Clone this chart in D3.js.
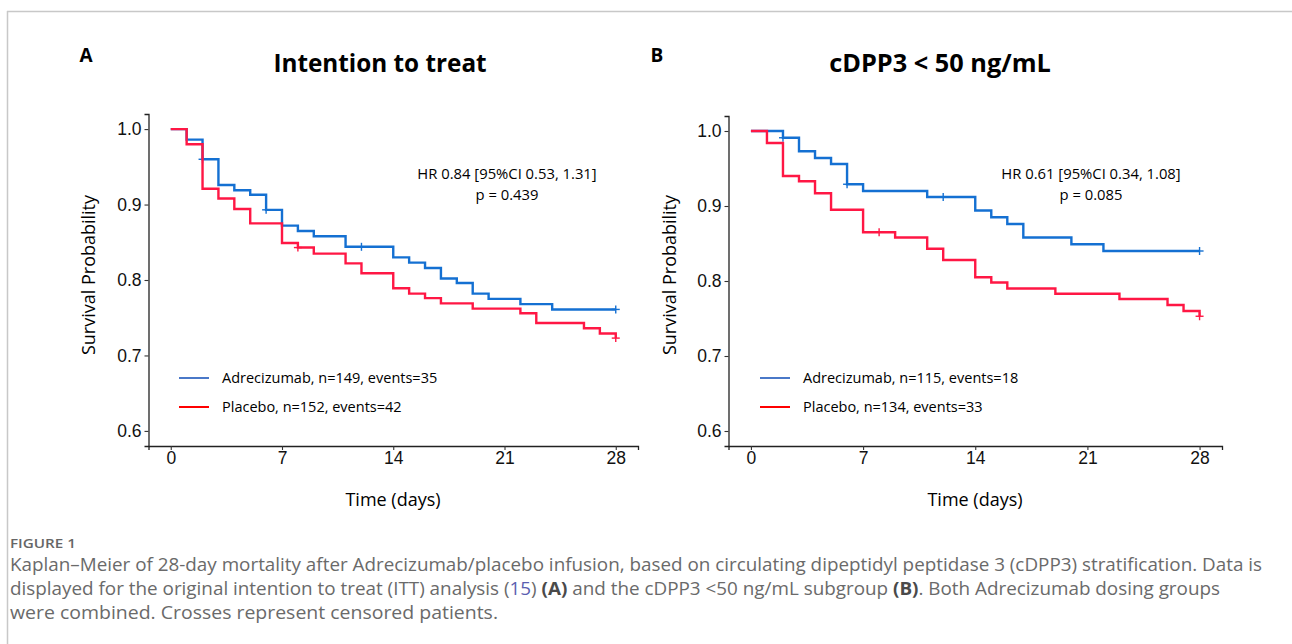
<!DOCTYPE html>
<html>
<head>
<meta charset="utf-8">
<script src="https://cdn.jsdelivr.net/npm/d3@7"></script>
<style>
  html, body { margin: 0; padding: 0; background: #fff; }
  svg { display: block; }
</style>
</head>
<body>
<svg id="chart" width="1292" height="644"></svg>
<script>
// ---------- DATA ----------
const xTicks = [0, 7, 14, 21, 28];
const yTicks = [0.6, 0.7, 0.8, 0.9, 1.0];

// Panel A: Intention to treat
const ittAdreTime = [0, 1, 2, 3, 4, 5, 6, 7, 8, 9, 11, 14, 15, 16, 17, 18, 19, 20, 22, 24, 28];
const ittAdreSurv = [1.0, 0.986, 0.960, 0.926, 0.919, 0.913, 0.893, 0.872, 0.865, 0.858, 0.844, 0.830, 0.823, 0.816, 0.802, 0.796, 0.782, 0.775, 0.768, 0.761, 0.761];
const ittAdreCensor = [2, 6, 12, 28];

const ittPlacTime = [0, 1, 2, 3, 4, 5, 7, 8, 9, 11, 12, 14, 15, 16, 17, 19, 22, 23, 26, 27, 28];
const ittPlacSurv = [1.0, 0.980, 0.921, 0.908, 0.894, 0.875, 0.849, 0.843, 0.835, 0.822, 0.809, 0.789, 0.782, 0.776, 0.769, 0.762, 0.756, 0.743, 0.736, 0.729, 0.723];
const ittPlacCensor = [8, 28];

// Panel B: cDPP3 < 50 ng/mL
const lowAdreTime = [0, 2, 3, 4, 5, 6, 7, 11, 14, 15, 16, 17, 20, 22, 28];
const lowAdreSurv = [1.0, 0.991, 0.973, 0.964, 0.956, 0.929, 0.920, 0.912, 0.894, 0.885, 0.876, 0.858, 0.849, 0.840, 0.840];
const lowAdreCensor = [2, 6, 12, 28];

const lowPlacTime = [0, 1, 2, 3, 4, 5, 7, 9, 11, 12, 14, 15, 16, 19, 23, 26, 27, 28];
const lowPlacSurv = [1.0, 0.984, 0.940, 0.933, 0.917, 0.895, 0.865, 0.858, 0.843, 0.828, 0.805, 0.798, 0.790, 0.783, 0.776, 0.768, 0.760, 0.753];
const lowPlacCensor = [8, 28];

const panelLetters = ["A", "B"];
const panelTitles = ["Intention to treat", "cDPP3 < 50 ng/mL"];
const hrTexts = ["HR 0.84 [95%CI 0.53, 1.31]", "HR 0.61 [95%CI 0.34, 1.08]"];
const pTexts = ["p = 0.439", "p = 0.085"];
const legendAdre = ["Adrecizumab, n=149, events=35", "Adrecizumab, n=115, events=18"];
const legendPlac = ["Placebo, n=152, events=42", "Placebo, n=134, events=33"];

const captionHead = "FIGURE 1";
const captionLine1 = "Kaplan\u2013Meier of 28-day mortality after Adrecizumab/placebo infusion, based on circulating dipeptidyl peptidase 3 (cDPP3) stratification. Data is";
const captionLine3 = "were combined. Crosses represent censored patients.";

// ---------- DRAW ----------
const svg = d3.select("#chart");
const COL_BLUE = "#1470d2";
const COL_RED = "#ff1744";
const LEG_BLUE = "#4a78c8";
const LEG_RED = "#ff0000";
const FONT_C = "'Open Sans', 'Noto Sans', sans-serif";
const FONT_A = "'Liberation Sans', Arial, sans-serif";

// frame
svg.append("line").attr("x1", 7).attr("x2", 1292).attr("y1", 11.5).attr("y2", 11.5)
  .attr("stroke", "#c8c8c8").attr("stroke-width", 1.5);
svg.append("line").attr("x1", 7.5).attr("x2", 7.5).attr("y1", 11).attr("y2", 644)
  .attr("stroke", "#c8c8c8").attr("stroke-width", 1.5);

const panels = [
  { x0: 148.5, x1: 638, y0: 446, y1: 114, letterX: 86, titleX: 380, labX: 89, xTitleX: 393, hrX: 507, legX: 179,
    adre: [ittAdreTime, ittAdreSurv, ittAdreCensor], plac: [ittPlacTime, ittPlacSurv, ittPlacCensor] },
  { x0: 728.5, x1: 1222, y0: 446, y1: 116, letterX: 657, titleX: 940, labX: 670, xTitleX: 975, hrX: 1091, legX: 760,
    adre: [lowAdreTime, lowAdreSurv, lowAdreCensor], plac: [lowPlacTime, lowPlacSurv, lowPlacCensor] }
];

panels.forEach((p, i) => {
  const x = d3.scaleLinear().domain([-1.4, 29.4]).range([p.x0, p.x1]);
  const y = d3.scaleLinear().domain([0.58, 1.02]).range([p.y0, p.y1]);
  const g = svg.append("g");

  // axes
  const xAxis = d3.axisBottom(x).tickValues(xTicks).tickSize(4).tickPadding(2).tickFormat(d3.format("d"));
  const yAxis = d3.axisLeft(y).tickValues(yTicks).tickSize(4).tickPadding(3).tickFormat(d3.format(".1f"));
  const gx = g.append("g").attr("transform", `translate(0,${p.y0})`).call(xAxis);
  const gy = g.append("g").attr("transform", `translate(${p.x0},0)`).call(yAxis);
  [gx, gy].forEach(a => {
    a.select(".domain").attr("stroke", "#222").attr("stroke-width", 1.3);
    a.selectAll(".tick line").attr("stroke", "#333").attr("stroke-width", 1.1);
    a.selectAll(".tick text").attr("fill", "#111").style("font-family", FONT_A).style("font-size", "17.5px");
  });

  // curves
  const line = d3.line().x(d => x(d[0])).y(d => y(d[1])).curve(d3.curveStepAfter);
  const drawSeries = (series, col) => {
    const [t, s, c] = series;
    const pts = t.map((tt, k) => [tt, s[k]]);
    g.append("path").datum(pts).attr("d", line).attr("fill", "none")
      .attr("stroke", col).attr("stroke-width", 2.4);
    const survAt = tt => { let v = s[0]; t.forEach((q, k) => { if (q <= tt) v = s[k]; }); return v; };
    c.forEach(ct => {
      const cx = x(ct), cy = y(survAt(ct));
      g.append("line").attr("x1", cx - 4).attr("x2", cx + 4).attr("y1", cy).attr("y2", cy).attr("stroke", col).attr("stroke-width", 1.4);
      g.append("line").attr("x1", cx).attr("x2", cx).attr("y1", cy - 4).attr("y2", cy + 4).attr("stroke", col).attr("stroke-width", 1.4);
    });
  };
  drawSeries(p.adre, COL_BLUE);
  drawSeries(p.plac, COL_RED);

  // texts
  svg.append("text").attr("x", p.letterX).attr("y", 62).attr("text-anchor", "middle")
    .style("font-family", FONT_C).style("font-weight", "700").style("font-size", "19px").text(panelLetters[i]);
  svg.append("text").attr("x", p.titleX).attr("y", 72).attr("text-anchor", "middle")
    .style("font-family", FONT_C).style("font-weight", "700").style("font-size", i === 0 ? "24.3px" : "25.3px").text(panelTitles[i]);
  svg.append("text").attr("transform", `translate(${p.labX},275) rotate(-90)`).attr("text-anchor", "middle")
    .attr("dy", "0.35em").style("font-family", FONT_C).style("font-size", "18px").text("Survival Probability");
  svg.append("text").attr("x", p.xTitleX).attr("y", 506).attr("text-anchor", "middle")
    .style("font-family", FONT_C).style("font-size", "18px").text("Time (days)");
  svg.append("text").attr("x", p.hrX).attr("y", 179).attr("text-anchor", "middle")
    .style("font-family", FONT_C).style("font-size", "14.8px").text(hrTexts[i]);
  svg.append("text").attr("x", p.hrX).attr("y", 200).attr("text-anchor", "middle")
    .style("font-family", FONT_C).style("font-size", "14.8px").text(pTexts[i]);

  // legend
  [[legendAdre[i], LEG_BLUE, 378], [legendPlac[i], LEG_RED, 407]].forEach(([txt, col, ly]) => {
    svg.append("line").attr("x1", p.legX).attr("x2", p.legX + 30).attr("y1", ly).attr("y2", ly)
      .attr("stroke", col).attr("stroke-width", 2);
    svg.append("text").attr("x", p.legX + 43).attr("y", ly).attr("dy", "0.35em")
      .style("font-family", FONT_C).style("font-size", "14.5px").text(txt);
  });
});

// caption
svg.append("text").attr("x", 10).attr("y", 548).attr("fill", "#666")
  .style("font-family", FONT_C).style("font-weight", "600").style("font-size", "12.5px")
  .attr("textLength", 66).attr("lengthAdjust", "spacingAndGlyphs").text(captionHead);
const capStyle = s => s.attr("fill", "#6a6a6a").style("font-family", FONT_C).style("font-size", "17.5px")
  .attr("lengthAdjust", "spacingAndGlyphs");
svg.append("text").attr("x", 10).attr("y", 571).call(capStyle).attr("textLength", 1252).text(captionLine1);
const l2 = svg.append("text").attr("x", 10).attr("y", 595).call(capStyle).attr("textLength", 1210);
l2.append("tspan").text("displayed for the original intention to treat (ITT) analysis (");
l2.append("tspan").attr("fill", "#5a5eb0").text("15");
l2.append("tspan").text(") ");
l2.append("tspan").style("font-weight", "700").attr("fill", "#4a4a4a").text("(A)");
l2.append("tspan").text(" and the cDPP3 <50 ng/mL subgroup ");
l2.append("tspan").style("font-weight", "700").attr("fill", "#4a4a4a").text("(B)");
l2.append("tspan").text(". Both Adrecizumab dosing groups");
svg.append("text").attr("x", 10).attr("y", 619).call(capStyle).attr("textLength", 488).text(captionLine3);
</script>
</body>
</html>
